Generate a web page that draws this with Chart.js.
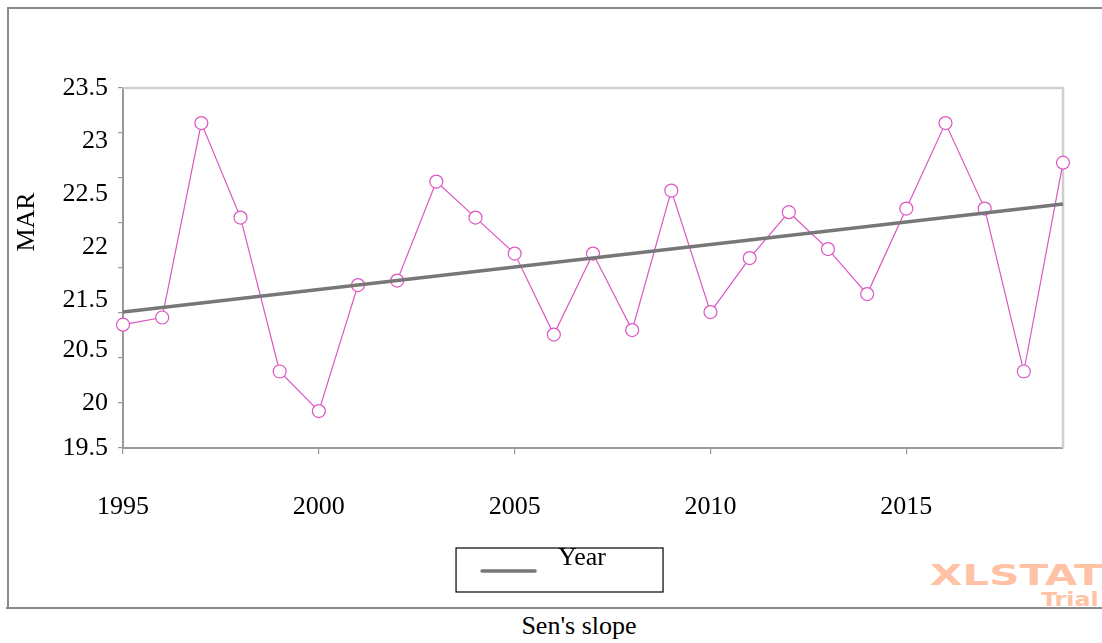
<!DOCTYPE html>
<html>
<head>
<meta charset="utf-8">
<script src="https://cdn.jsdelivr.net/npm/chart.js@4.4.1/dist/chart.umd.min.js"></script>
<style>
  html, body { margin: 0; padding: 0; background: #fff; }
  body { width: 1102px; height: 643px; position: relative; overflow: hidden; font-family: 'Liberation Serif', 'Times New Roman', serif; }
  #wrap { position: absolute; left: 0; top: 0; width: 1102px; height: 608px; }
  #chart { display: block; }
  .frame { position: absolute; left: 7px; top: 7px; width: 1100px; height: 601px; border-left: 2px solid #8a8a8a; border-top: 2px solid #8a8a8a; box-sizing: border-box; }
  .baseline { position: absolute; left: 6px; top: 607px; width: 1096px; height: 2px; background: #8a8a8a; }
  .caption { position: absolute; left: 0; width: 1158px; top: 610px; text-align: center; font-size: 26px; line-height: 32px; color: #000; }
  .ytitle { position: absolute; left: -24px; top: 207px; width: 100px; height: 30px; line-height: 30px; text-align: center; font-size: 26px; color: #000; transform: rotate(-90deg); transform-origin: 50% 50%; z-index: 2; }
  .wm1 { position: absolute; left: 930px; top: 562px; font-family: 'DejaVu Sans', sans-serif; font-weight: bold; font-size: 28px; line-height: 28px; color: #ffc2a4; transform: scaleX(1.5); transform-origin: left top; white-space: nowrap; }
  .wm2 { position: absolute; left: 1041px; top: 590px; font-family: 'DejaVu Sans', sans-serif; font-weight: bold; font-size: 19px; line-height: 19px; color: #ffc2a4; transform: scaleX(1.25); transform-origin: left top; white-space: nowrap; }
</style>
</head>
<body>
<div class="frame"></div>
<div class="baseline"></div>
<div class="wm1">XLSTAT</div>
<div class="wm2">Trial</div>
<div id="wrap"><canvas id="chart" width="1102" height="608"></canvas></div>
<div class="ytitle">MAR</div>
<div class="caption">Sen's slope</div>
<script>
// observed series
const years = [1995, 1996, 1997, 1998, 1999, 2000, 2001, 2002, 2003, 2004, 2005, 2006,
               2007, 2008, 2009, 2010, 2011, 2012, 2013, 2014, 2015, 2016, 2017, 2018, 2019];
const marValues = [20.87, 20.95, 23.11, 22.06, 20.35, 19.91, 21.31, 21.36, 22.46, 22.06, 21.66, 20.76,
                   21.66, 20.81, 22.36, 21.01, 21.61, 22.12, 21.71, 21.21, 22.16, 23.11, 22.16, 20.35, 22.67];

// Sen's slope trend line end points
const trendYears = [1995, 2019];
const trendValues = [21.01, 22.21];

const legendLabel = 'Year';
const hiddenYLabels = [21];

const serif = "'Liberation Serif', 'Times New Roman', serif";
const pink = '#dd55c2';
const trendGrey = '#777777';

// the source plot draws some y labels a little off their ticks;
// shift them by half-lines (8px each) to look the same
const yLabelShift = { 23: 1, 22.5: 2, 22: 3, 21.5: 4, 20.5: -1 };

function yLabel(v) {
    if (hiddenYLabels.includes(v)) return '';
    const label = String(v);
    const s = yLabelShift[v] || 0;
    if (s > 0) return [...Array(s).fill(''), label];
    if (s < 0) return [label, ...Array(-s).fill('')];
    return label;
}

// legend sample: grey line sitting a bit below the text, as in the source
function legendSample() {
    const c = document.createElement('canvas');
    c.width = 78;
    c.height = 34;
    const g = c.getContext('2d');
    g.strokeStyle = trendGrey;
    g.lineWidth = 3.5;
    g.lineCap = 'round';
    g.beginPath();
    g.moveTo(15, 30);
    g.lineTo(68, 30);
    g.stroke();
    return c;
}

const framePlugin = {
    id: 'framePlugin',
    beforeDatasetsDraw(chart) {
        const { ctx, chartArea: a } = chart;
        ctx.save();
        ctx.strokeStyle = '#cfcfcf';
        ctx.lineWidth = 2.5;
        ctx.beginPath();
        ctx.moveTo(a.left, a.top);
        ctx.lineTo(a.right, a.top);
        ctx.lineTo(a.right, a.bottom);
        ctx.stroke();
        ctx.restore();
    },
    afterDraw(chart) {
        // box around the legend
        const lg = chart.legend;
        if (!lg || !lg.legendHitBoxes || !lg.legendHitBoxes.length) return;
        const hb = lg.legendHitBoxes[0];
        const { ctx } = chart;
        ctx.save();
        ctx.strokeStyle = '#000';
        ctx.lineWidth = 1.2;
        ctx.strokeRect(hb.left - 11, lg.top + 11, 207, 44);
        ctx.restore();
    }
};

new Chart(document.getElementById('chart'), {
    type: 'line',
    data: {
        datasets: [
            {
                label: legendLabel,
                data: trendYears.map((x, i) => ({ x, y: trendValues[i] })),
                borderColor: trendGrey,
                backgroundColor: trendGrey,
                borderWidth: 3.5,
                pointRadius: 0,
                clip: false
            },
            {
                label: 'MAR',
                data: years.map((x, i) => ({ x, y: marValues[i] })),
                borderColor: pink,
                borderWidth: 1.2,
                pointRadius: 6.5,
                pointBackgroundColor: '#ffffff',
                pointBorderColor: pink,
                pointBorderWidth: 1.2,
                tension: 0,
                clip: false
            }
        ]
    },
    options: {
        responsive: false,
        animation: false,
        events: [],
        layout: { padding: { left: 10, right: 39, top: 88, bottom: 27 } },
        plugins: {
            tooltip: { enabled: false },
            legend: {
                position: 'bottom',
                labels: {
                    color: '#000',
                    font: { family: serif, size: 26 },
                    usePointStyle: true,
                    pointStyleWidth: 78,
                    padding: 8,
                    generateLabels() {
                        return [{
                            text: legendLabel,
                            pointStyle: legendSample(),
                            fillStyle: trendGrey,
                            strokeStyle: trendGrey,
                            lineWidth: 0,
                            datasetIndex: 0,
                            fontColor: '#000'
                        }];
                    }
                }
            }
        },
        scales: {
            x: {
                type: 'linear',
                min: 1995,
                max: 2019,
                afterFit(scale) { scale.height = 89; },
                afterBuildTicks(scale) {
                    scale.ticks = scale.ticks.filter(t => t.value % 5 === 0);
                },
                ticks: {
                    stepSize: 5,
                    autoSkip: false,
                    maxRotation: 0,
                    padding: 38,
                    color: '#000',
                    font: { family: serif, size: 26 },
                    callback: v => String(v)
                },
                grid: { drawOnChartArea: false, tickLength: 6, color: '#999', lineWidth: 1.2 },
                border: { color: '#9a9a9a', width: 2 }
            },
            y: {
                min: 19.5,
                max: 23.5,
                afterFit(scale) { scale.width = 113; },
                ticks: {
                    stepSize: 0.5,
                    autoSkip: false,
                    padding: 10,
                    color: '#000',
                    font: { family: serif, size: 26, lineHeight: '16px' },
                    callback: yLabel
                },
                grid: { drawOnChartArea: false, tickLength: 5, color: '#999', lineWidth: 1.2 },
                border: { color: '#9a9a9a', width: 2 }
            }
        }
    },
    plugins: [framePlugin]
});
</script>
</body>
</html>
